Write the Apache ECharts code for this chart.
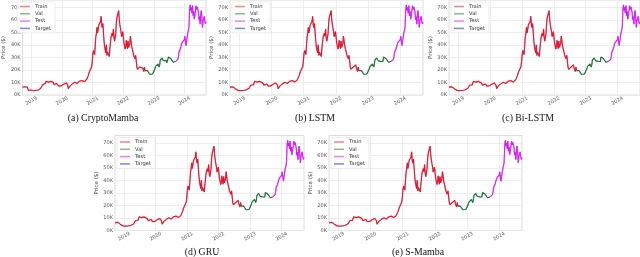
<!DOCTYPE html>
<html><head><meta charset="utf-8">
<script src="https://cdn.jsdelivr.net/npm/echarts@6/dist/echarts.min.js"></script>
<style>html,body{margin:0;padding:0;background:#fff}#c{width:640px;height:257px}</style>
</head><body><div id="c"></div>
<script>
// Weekly BTC closing prices (thousands of USD), one value every 7 days from startDate
const startDate = [2018, 8, 17];
const stepDays = 7;
const price2018 = [6.3,6.6,6.6,6.6,6.5,6.5,6.3,6.5,6.4,4.9,3.8,3.9,3.4,3.7,4.0,3.7];
const price2019 = [4.0,3.5,3.5,3.4, 3.4,3.6,3.9,3.8, 3.7,3.9,4.0,3.9, 4.1,5.3,5.2,5.4,5.3, 5.8,8.0,8.0,8.7,
  7.7,8.0,9.3,11.0, 10.6,12.6,10.9,10.3,9.5, 11.8,11.4,10.9,10.1, 10.6,10.3,10.3,9.7,8.3,
  7.9,8.3,8.2,9.2, 9.4,8.8,8.1,7.1, 7.3,7.3,6.9,7.3,7.2];
const price2020 = [8.2,8.1,8.6,8.9, 9.3,9.9,9.6,9.7, 8.8,7.9,5.0,5.8,6.4, 7.3,6.8,6.9,7.7, 8.9,8.6,9.7,8.9,
  10.2,9.8,9.4,9.6,9.2, 9.3,9.2,9.2,11.0, 11.2,11.9,12.3,11.5,11.7, 10.1,10.7,10.4,10.7,
  10.8,11.5,11.9,13.0, 13.5,15.3,16.7,18.4,19.7, 19.2,19.3,22.8,27.1];
const price2021 = [33.0,35.6,36.6,32.3, 33.5,46.4,49.2,54.2, 49.6,52.4,56.0,54.5,57.6, 58.7,63.0,56.2,54.0,
  57.2,55.9,43.5,38.8,37.3, 33.6,40.2,31.6,34.4, 33.7,32.8,30.8,37.3, 38.2,46.4,45.9,49.5,47.1,
  52.7,46.0,43.0,42.2, 49.1,57.5,62.0,63.1, 61.0,67.5,60.4,56.3,57.8, 50.6,46.7,46.9,50.7];
const price2022 = [46.5,41.8,42.3,36.7,38.5, 43.8,42.6,37.0,43.2, 38.1,39.7,41.2,47.1, 46.6,39.5,40.8,40.4,
  38.5,31.0,29.8,29.1,31.8, 31.4,22.5,20.6,20.7, 20.2,19.3,22.4,21.3, 23.3,23.8,24.1,21.5,20.3,
  18.8,22.4,19.5,19.2, 20.3,19.1,19.5,19.6,20.5, 20.6,16.6,15.8,16.4, 17.1,17.2,16.8,16.7];
const price2023 = [16.7,17.4,21.2,22.9,22.8, 22.8,21.8,24.8,23.5, 22.4,24.1,28.0,27.1, 28.2,29.7,29.4,27.5,
  28.1,27.7,27.2,26.9,27.7, 25.7,25.9,26.8,30.3, 31.2,30.4,30.1,29.2,29.2, 29.2,29.4,26.2,27.7,
  25.8,25.2,26.8,26.3, 27.5,27.6,28.5,30.9,34.5, 35.0,36.5,37.4,37.2, 41.9,41.2,42.7,43.0];
const price2024 = [44.2,47.0,42.5,39.5,43.3, 42.7,49.9,51.8,54.5, 68.3,72.1,67.6,70.0, 65.5,71.6,63.4,66.8,60.6,
  63.2,62.9,71.4,68.5, 70.5,69.6,66.5,60.3, 62.7,56.7,64.8,67.6,66.8, 54.0,59.4,59.0,62.9, 59.1,57.0,58.2];
const valStart = [2022, 8, 17];
const testStart = [2023, 8, 17];
const models = ['(a) CryptoMamba', '(b) LSTM', '(c) Bi-LSTM', '(d) GRU', '(e) S-Mamba'];
const seriesNames = ['Train', 'Val', 'Test', 'Target'];
const xTickYears = [2019, 2020, 2021, 2022, 2023, 2024];
const yTicks = [0, 10000, 20000, 30000, 40000, 50000, 60000, 70000];
const yTickLabels = ['0K', '10K', '20K', '30K', '40K', '50K', '60K', '70K'];

const DAY = 86400000;
const t0 = Date.UTC(...startDate);
const prices = [].concat(price2018, price2019, price2020, price2021, price2022, price2023, price2024);
const pts = prices.map((p, i) => [t0 + i * stepDays * DAY, p * 1000]);
const tVal = Date.UTC(...valStart), tTest = Date.UTC(...testStart);
const iVal = pts.findIndex(d => d[0] >= tVal);
const iTest = pts.findIndex(d => d[0] >= tTest);
const segTrain = pts.slice(0, iVal + 1);
const segVal = pts.slice(iVal, iTest + 1);
const segTest = pts.slice(iTest);
const xMin = t0, xMax = pts[pts.length - 1][0];
const yearTs = xTickYears.map(y => Date.UTC(y, 0, 1));

const layout = [
  {left: 15, top: 0, width: 191, height: 95, cx: 103, cy: 113},
  {left: 230, top: 0, width: 193, height: 95, cx: 315, cy: 113},
  {left: 449, top: 0, width: 193, height: 95, cx: 528, cy: 113},
  {left: 115, top: 135.5, width: 189, height: 95, cx: 202, cy: 247},
  {left: 329, top: 135.5, width: 193, height: 95, cx: 418, cy: 247}
];
const colors = {Train: 'rgba(255,0,0,0.85)', Val: 'rgba(0,110,0,0.8)', Test: 'rgba(245,0,255,0.8)', Target: 'rgba(0,0,255,0.45)'};
const legendColors = {Train: '#ff8080', Val: '#80c080', Test: '#f080f8', Target: '#8080ff'};
const FONT = 'DejaVu Sans';

const option = {
  animation: false,
  backgroundColor: '#fff',
  grid: [], xAxis: [], yAxis: [], series: [], legend: [], title: []
};
layout.forEach((g, k) => {
  option.grid.push({left: g.left, top: g.top, width: g.width, height: g.height, show: true,
    borderColor: '#dcdcdc', borderWidth: 1, backgroundColor: '#fff'});
  option.xAxis.push({type: 'value', gridIndex: k, min: xMin, max: xMax,
    axisLine: {show: false}, axisTick: {show: false, customValues: yearTs},
    splitLine: {show: true, lineStyle: {color: '#e8e8e8', width: 0.8}},
    axisLabel: {customValues: yearTs, rotate: 30, align: 'center', verticalAlign: 'middle', margin: 6, fontSize: 5, color: '#555',
      fontFamily: FONT, formatter: v => String(new Date(v).getUTCFullYear())}});
  option.yAxis.push({type: 'value', gridIndex: k, min: 0, max: 76000, interval: 10000,
    name: 'Price ($)', nameLocation: 'middle', nameGap: 10, nameRotate: 90,
    nameTextStyle: {fontSize: 5.5, color: '#444', fontFamily: FONT},
    axisLine: {show: false}, axisTick: {show: false},
    splitLine: {show: true, showMaxLine: false, lineStyle: {color: '#e8e8e8', width: 0.8}},
    axisLabel: {fontSize: 5, color: '#555', margin: 2, fontFamily: FONT, showMaxLabel: false,
      formatter: v => { const j = yTicks.indexOf(v); return j >= 0 ? yTickLabels[j] : ''; }}});
  const mk = (name, data, w) => ({name, type: 'line', xAxisIndex: k, yAxisIndex: k, data,
    showSymbol: false, symbol: 'none', color: legendColors[name], lineStyle: {width: w, color: colors[name]}});
  option.series.push(mk('Target', pts, 0.9));
  option.series.push(mk('Train', segTrain, 1.2));
  option.series.push(mk('Val', segVal, 1.2));
  option.series.push(mk('Test', segTest, 1.2));
  option.legend.push({data: seriesNames, orient: 'vertical', left: g.left + 2, top: g.top + 2,
    itemWidth: 10, itemHeight: 1.5, itemGap: 2.3, icon: 'rect', padding: [2, 4, 2, 3],
    backgroundColor: 'rgba(255,255,255,0.85)', borderColor: '#e0e0e0', borderWidth: 0.6, borderRadius: 1.5,
    textStyle: {fontSize: 5.2, color: '#333', fontFamily: FONT, padding: [0, 0, 0, 0]}, selectedMode: false});
  option.title.push({text: models[k], left: g.cx, top: g.cy, textAlign: 'center', padding: 0,
    textStyle: {fontFamily: 'Liberation Serif', fontSize: 9.8, fontWeight: 'normal', color: '#111'}});
});
const chart = echarts.init(document.getElementById('c'), null, {renderer: 'canvas'});
chart.setOption(option);
</script></body></html>
